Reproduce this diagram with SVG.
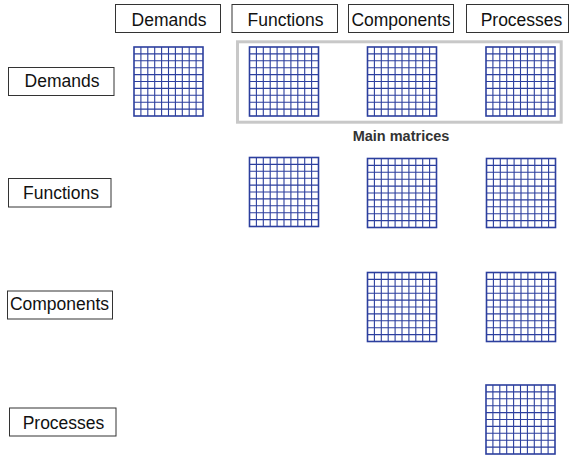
<svg xmlns="http://www.w3.org/2000/svg" xmlns:xlink="http://www.w3.org/1999/xlink" width="570" height="457" viewBox="0 0 570 457">
<style>
.lbl{fill:#fff;stroke:#333;stroke-width:1}
.t{font-family:"Liberation Sans",Arial,sans-serif;font-size:17.5px;fill:#111;text-anchor:middle}
.cap{font-family:"Liberation Sans",Arial,sans-serif;font-size:14.5px;font-weight:bold;fill:#333;text-anchor:middle}
.grid{fill:none;stroke:#2c3f9e;stroke-width:1.1}
.frame{fill:none;stroke:#2c3f9e;stroke-width:1.6}
</style>
<defs>
<g id="mtx">
<path class="grid" d="M6.9 0V69M13.8 0V69M20.7 0V69M27.6 0V69M34.5 0V69M41.4 0V69M48.3 0V69M55.2 0V69M62.1 0V69M0 6.9H69M0 13.8H69M0 20.7H69M0 27.6H69M0 34.5H69M0 41.4H69M0 48.3H69M0 55.2H69M0 62.1H69"/>
<rect class="frame" x="0" y="0" width="69" height="69"/>
</g>
</defs>
<rect width="570" height="457" fill="#fff"/>
<g id="col-demands"><rect class="lbl" x="115.5" y="4.5" width="105" height="28"/><text class="t" x="169" y="25.5">Demands</text></g>
<g id="col-functions"><rect class="lbl" x="232" y="4.5" width="105.5" height="28"/><text class="t" x="285.5" y="25.5">Functions</text></g>
<g id="col-components"><rect class="lbl" x="348.5" y="4.5" width="105" height="28"/><text class="t" x="401" y="25.5">Components</text></g>
<g id="col-processes"><rect class="lbl" x="466.5" y="4.5" width="102" height="28"/><text class="t" x="521.5" y="25.5">Processes</text></g>
<g id="row-demands"><rect class="lbl" x="8.5" y="67.5" width="105.5" height="28"/><text class="t" x="62" y="87">Demands</text></g>
<g id="row-functions"><rect class="lbl" x="8.5" y="178.5" width="102.5" height="28.5"/><text class="t" x="61" y="199">Functions</text></g>
<g id="row-components"><rect class="lbl" x="7.5" y="291" width="105" height="28"/><text class="t" x="59.5" y="309.5">Components</text></g>
<g id="row-processes"><rect class="lbl" x="9.5" y="408" width="106.5" height="28"/><text class="t" x="63.5" y="428.5">Processes</text></g>
<g id="main-matrices"><rect x="237.5" y="41.8" width="323.7" height="80.4" fill="none" stroke="#c8c8c8" stroke-width="3"/><text class="cap" x="401" y="141">Main matrices</text></g>
<g id="m-dd"><use xlink:href="#mtx" x="134" y="47"/></g>
<g id="m-df"><use xlink:href="#mtx" x="249.5" y="47"/></g>
<g id="m-dc"><use xlink:href="#mtx" x="367.5" y="47"/></g>
<g id="m-dp"><use xlink:href="#mtx" x="486" y="47"/></g>
<g id="m-ff"><use xlink:href="#mtx" x="249.5" y="157.5"/></g>
<g id="m-fc"><use xlink:href="#mtx" x="367.5" y="158.5"/></g>
<g id="m-fp"><use xlink:href="#mtx" x="486.5" y="158.5"/></g>
<g id="m-cc"><use xlink:href="#mtx" x="367.5" y="272.5"/></g>
<g id="m-cp"><use xlink:href="#mtx" x="486.5" y="272.5"/></g>
<g id="m-pp"><use xlink:href="#mtx" x="486" y="385"/></g>
</svg>
